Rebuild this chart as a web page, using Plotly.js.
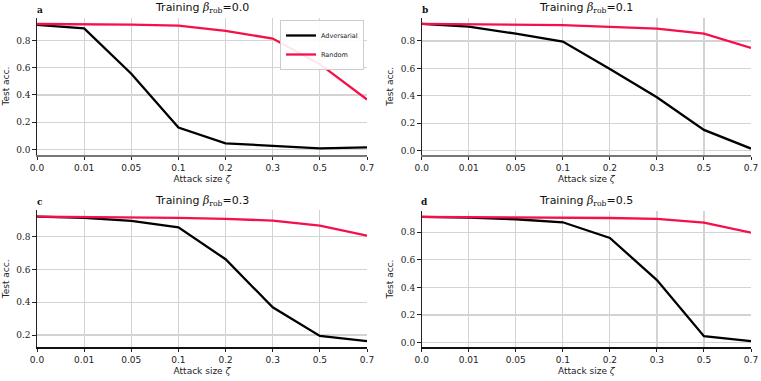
<!DOCTYPE html>
<html>
<head>
<meta charset="utf-8">
<script src="https://cdn.plot.ly/plotly-3.0.1.min.js"></script>
<style>
  html, body { margin: 0; padding: 0; background: #fff; }
  #chart { width: 761px; height: 381px; }
</style>
</head>
<body>
<div id="chart"></div>
<script>
(function () {
  "use strict";

  // Attack sizes (categorical x axis, evenly spaced)
  var ATTACK_SIZES = ["0.0", "0.01", "0.05", "0.1", "0.2", "0.3", "0.5", "0.7"];

  // Training beta_rob per panel
  var BETAS = ["0.0", "0.1", "0.3", "0.5"];
  var PANEL_LETTERS = ["a", "b", "c", "d"];

  // Test accuracy
  var ADV_00 = [0.915, 0.890, 0.556, 0.161, 0.044, 0.027, 0.008, 0.015];
  var RND_00 = [0.922, 0.920, 0.917, 0.910, 0.871, 0.815, 0.627, 0.367];

  var ADV_01 = [0.924, 0.904, 0.853, 0.795, 0.596, 0.389, 0.151, 0.015];
  var RND_01 = [0.924, 0.922, 0.920, 0.915, 0.902, 0.890, 0.853, 0.749];

  var ADV_03 = [0.922, 0.914, 0.896, 0.857, 0.662, 0.369, 0.194, 0.163];
  var RND_03 = [0.922, 0.920, 0.918, 0.914, 0.908, 0.898, 0.867, 0.806];

  var ADV_05 = [0.912, 0.907, 0.895, 0.873, 0.759, 0.453, 0.046, 0.010];
  var RND_05 = [0.912, 0.911, 0.910, 0.907, 0.904, 0.897, 0.871, 0.798];

  var ADV = [ADV_00, ADV_01, ADV_03, ADV_05];
  var RND = [RND_00, RND_01, RND_03, RND_05];

  var W = 761, H = 381;
  var BLACK = "#000000";
  var RED = "#f5104a";
  var GRID = "#d3d3d3";
  var SANS = "DejaVu Sans, sans-serif";
  var SERIF = "DejaVu Serif, serif";

  // panel boxes in pixels: [left, right, top, bottom]
  var BOXES = [
    [37, 367, 17.8, 154.5],
    [421.7, 751, 17.7, 154.8],
    [37, 367, 210.4, 347.3],
    [421.7, 751, 210.7, 347.3]
  ];

  // matplotlib-style 5% margins on y
  function yRange(a, b) {
    var all = a.concat(b);
    var lo = Math.min.apply(null, all), hi = Math.max.apply(null, all);
    var m = (hi - lo) * 0.05;
    return [lo - m, hi + m];
  }

  var traces = [];
  var layout = {
    width: W, height: H,
    margin: { l: 0, r: 0, t: 0, b: 0 },
    paper_bgcolor: "#fff",
    plot_bgcolor: "#fff",
    font: { family: SANS, size: 9, color: "#222" },
    showlegend: true,
    legend: {
      x: 364 / W, y: 1 - 20 / H, xanchor: "right", yanchor: "top",
      bgcolor: "rgba(255,255,255,0.9)", bordercolor: "#cccccc", borderwidth: 1,
      font: { family: SANS, size: 6.5, color: "#222" },
      tracegroupgap: 0, itemwidth: 30
    },
    annotations: []
  };

  BETAS.forEach(function (beta, i) {
    var n = i + 1;
    var xa = "x" + (n === 1 ? "" : n), ya = "y" + (n === 1 ? "" : n);
    var box = BOXES[i];
    var bottomRow = i >= 2;

    traces.push({
      type: "scatter", mode: "lines", name: "Adversarial",
      x: ATTACK_SIZES, y: ADV[i], xaxis: xa, yaxis: ya,
      line: { color: BLACK, width: 2.3 }, showlegend: i === 0
    });
    traces.push({
      type: "scatter", mode: "lines", name: "Random",
      x: ATTACK_SIZES, y: RND[i], xaxis: xa, yaxis: ya,
      line: { color: RED, width: 2.3 }, showlegend: i === 0
    });

    layout["xaxis" + (n === 1 ? "" : n)] = {
      domain: [box[0] / W, box[1] / W],
      anchor: ya,
      type: "category",
      range: [0, ATTACK_SIZES.length - 1],
      showgrid: true, gridcolor: GRID, gridwidth: 1.2,
      showline: true, linecolor: bottomRow ? "#111" : "#777",
      linewidth: bottomRow ? 1.2 : 2,
      ticks: "outside", ticklen: 3.5, tickcolor: "#222",
      tickfont: { family: SANS, size: 9, color: "#222" },
      zeroline: false, fixedrange: true,
      title: { text: "Attack size <i>ζ</i>", font: { family: SANS, size: 9, color: "#222" }, standoff: 4 }
    };
    layout["yaxis" + (n === 1 ? "" : n)] = {
      domain: [1 - box[3] / H, 1 - box[2] / H],
      anchor: xa,
      range: yRange(ADV[i], RND[i]),
      tick0: 0, dtick: 0.2, tickformat: ".1f",
      showgrid: true, gridcolor: GRID, gridwidth: 1.2,
      showline: true, linecolor: "#222", linewidth: 1.2,
      ticks: "outside", ticklen: 3.5, tickcolor: "#222",
      tickfont: { family: SERIF, size: 9, color: "#222" },
      zeroline: false, fixedrange: true,
      title: { text: "Test acc.", font: { family: SANS, size: 9, color: "#222" }, standoff: 5 }
    };

    // panel title
    layout.annotations.push({
      xref: "paper", yref: "paper",
      x: (box[0] + box[1]) / 2 / W, y: 1 - (bottomRow ? 200.5 : 8.3) / H,
      xanchor: "center", yanchor: "middle", showarrow: false,
      text: "Training <span style='font-family:DejaVu Serif'><i>β</i><sub>rob</sub></span>=" + beta,
      font: { family: SANS, size: 11, color: "#111" }
    });
    // panel letter
    layout.annotations.push({
      xref: "paper", yref: "paper",
      x: (box[0] + 3) / W, y: 1 - (bottomRow ? 202 : 10) / H,
      xanchor: "center", yanchor: "middle", showarrow: false,
      text: "<b>" + PANEL_LETTERS[i] + "</b>",
      font: { family: SERIF, size: 9, color: "#111" }
    });
  });

  Plotly.newPlot("chart", traces, layout, { staticPlot: true, displayModeBar: false });
})();
</script>
</body>
</html>
